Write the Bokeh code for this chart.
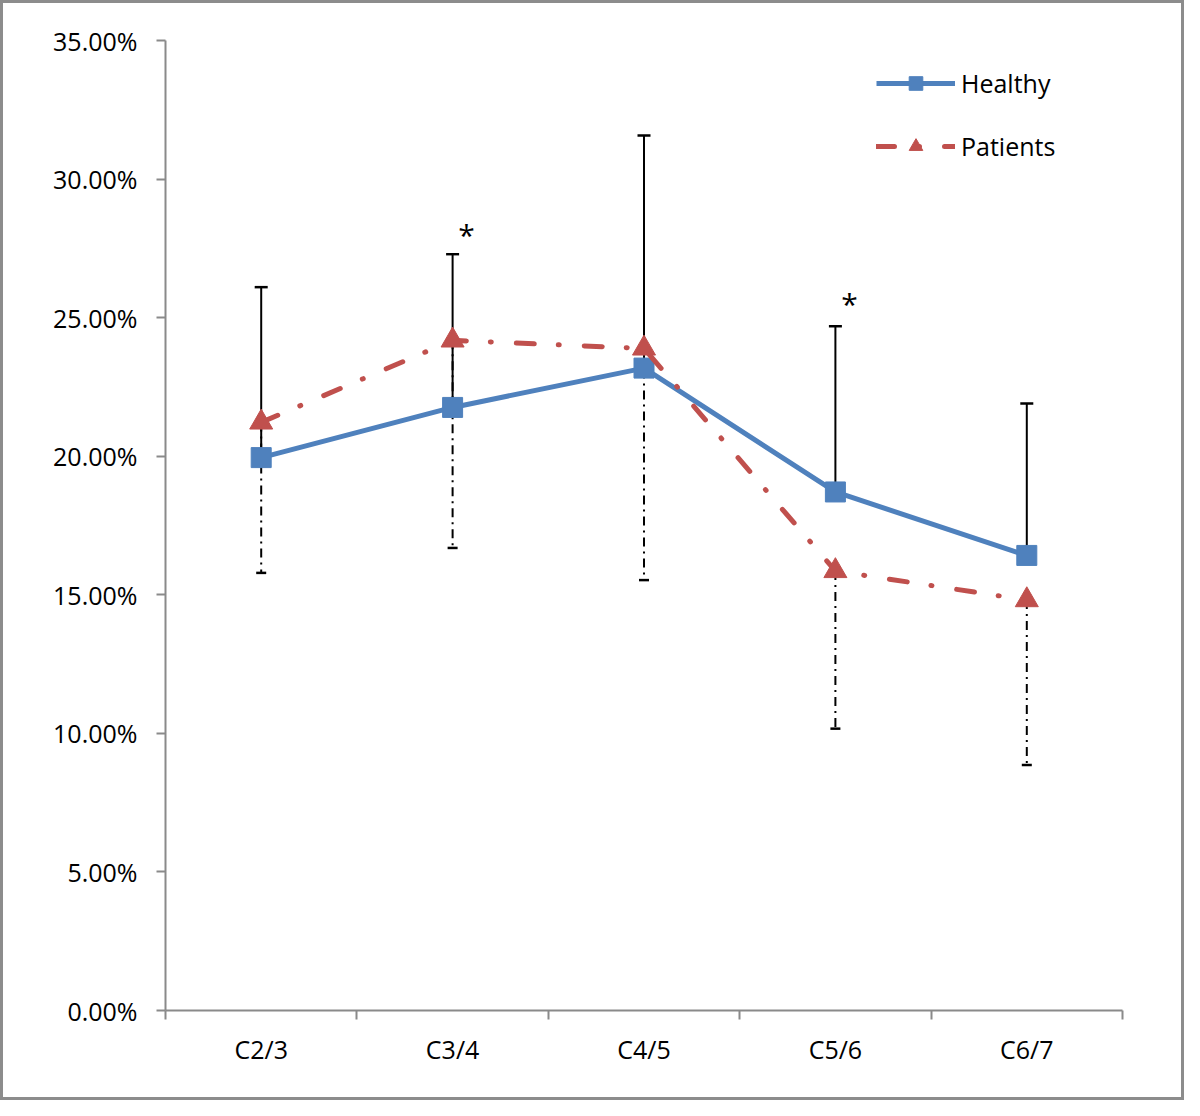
from bokeh.plotting import figure
from bokeh.models import (Range1d, FixedTicker, PrintfTickFormatter, Legend, LegendItem,
                          ColumnDataSource)
from bokeh.core.properties import value
from bokeh.embed import file_html
from bokeh.resources import INLINE

# ---- data (percent) ----
categories = ["C2/3", "C3/4", "C4/5", "C5/6", "C6/7"]
healthy_mean = [19.95, 21.76, 23.18, 18.71, 16.42]
healthy_sd = [6.15, 5.53, 8.39, 5.98, 5.48]
patients_mean = [21.22, 24.18, 23.89, 15.86, 14.81]
patients_sd = [5.43, 7.49, 8.36, 5.69, 5.95]
star_categories = ["C3/4", "C5/6"]
star_y = [28.16, 25.67]
y_ticks = [0, 5, 10, 15, 20, 25, 30, 35]

FONT = "Open Sans"
BLUE = "#4F81BD"
RED = "#C0504D"
AXIS = "#8a8a8a"

xpos = [i + 0.5 for i in range(len(categories))]
cat_index = {c: i + 0.5 for i, c in enumerate(categories)}

p = figure(width=1184, height=1100, output_backend="svg", toolbar_location=None,
           x_range=Range1d(0, len(categories)), y_range=Range1d(0, 35),
           min_border_left=162, min_border_right=65, min_border_top=37, min_border_bottom=93)
p.styles = {"border": "3px solid #8c8c8c", "box-sizing": "border-box"}
p.grid.visible = False
p.outline_line_color = None

# axes
xa = p.xaxis[0]
xa.ticker = FixedTicker(ticks=xpos, minor_ticks=list(range(len(categories) + 1)))
xa.major_label_overrides = {x: c for x, c in zip(xpos, categories)}
xa.major_tick_out = 0
xa.major_tick_in = 0
xa.minor_tick_out = 9
xa.minor_tick_in = 0
xa.minor_tick_line_color = AXIS
xa.minor_tick_line_width = 2
xa.axis_line_color = AXIS
xa.axis_line_width = 2
xa.major_label_standoff = 12
xa.major_label_text_font = FONT
xa.major_label_text_font_size = "25px"
xa.major_label_text_color = "black"

ya = p.yaxis[0]
ya.ticker = FixedTicker(ticks=y_ticks)
ya.formatter = PrintfTickFormatter(format="%.2f%%")
ya.major_tick_out = 9
ya.major_tick_in = 0
ya.minor_tick_line_color = None
ya.major_tick_line_color = AXIS
ya.major_tick_line_width = 2
ya.axis_line_color = AXIS
ya.axis_line_width = 2
ya.major_label_standoff = 19
ya.major_label_text_font = FONT
ya.major_label_text_font_size = "25px"
ya.major_label_text_color = "black"

# error bars
h_upper = [m + s for m, s in zip(healthy_mean, healthy_sd)]
p_lower = [m - s for m, s in zip(patients_mean, patients_sd)]
src_h = ColumnDataSource(dict(x=xpos, y=healthy_mean, top=h_upper))
src_p = ColumnDataSource(dict(x=xpos, y=patients_mean, bot=p_lower))

p.segment(x0="x", y0="y", x1="x", y1="top", source=src_h, line_color="black", line_width=2)
p.scatter(x="x", y="top", source=src_h, marker="dash", size=13, line_color="black", line_width=2.5)
p.segment(x0="x", y0="y", x1="x", y1="bot", source=src_p, line_color="black", line_width=2,
          line_dash="9 5 2 5")
p.scatter(x="x", y="bot", source=src_p, marker="dash", size=10, line_color="black", line_width=2.5)

# series
hl = p.line(x="x", y="y", source=src_h, line_color=BLUE, line_width=5)
hs = p.scatter(x="x", y="y", source=src_h, marker="square", size=20, fill_color=BLUE,
               line_color=BLUE)
pl = p.line(x="x", y="y", source=src_p, line_color=RED, line_width=5, line_dash="18 24 1 25",
            line_cap="round")
ps = p.scatter(x="x", y="y", source=src_p, marker="triangle", size=23, fill_color=RED,
               line_color=RED)

# significance stars
p.text(x=[cat_index[c] for c in star_categories], y=star_y, text=["*", "*"],
       x_offset=14, y_offset=4, text_align="center", text_baseline="middle",
       text_font=value(FONT), text_font_size="30px", text_color="black")

legend = Legend(items=[LegendItem(label="Healthy", renderers=[hl, hs]),
                       LegendItem(label="Patients", renderers=[pl, ps])],
                location=(711, 847), orientation="vertical")
legend.padding = 0
legend.margin = 0
legend.spacing = 29
legend.glyph_width = 79
legend.glyph_height = 34
legend.label_height = 34
legend.label_standoff = 6
legend.label_text_font = FONT
legend.label_text_font_size = "25px"
legend.label_text_color = "black"
legend.border_line_color = None
legend.background_fill_alpha = 0
p.add_layout(legend, "center")

open("out.html", "w").write(file_html(p, INLINE))
